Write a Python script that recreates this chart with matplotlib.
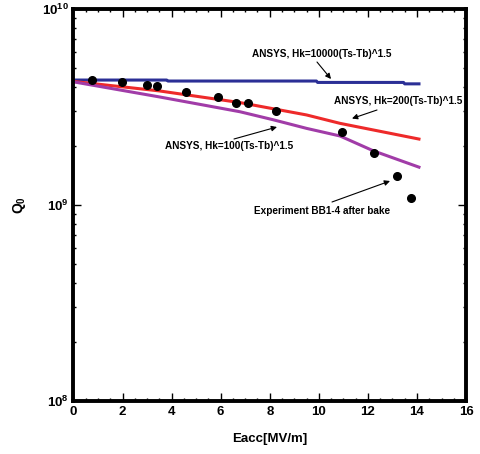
import matplotlib
matplotlib.use("Agg")
import matplotlib.pyplot as plt
from matplotlib.ticker import MultipleLocator, LogLocator, FixedLocator, NullFormatter

plt.rcParams['font.family'] = ['Liberation Sans', 'DejaVu Sans']
plt.rcParams['font.weight'] = 'bold'
plt.rcParams['mathtext.fontset'] = 'custom'
plt.rcParams['mathtext.rm'] = 'Liberation Sans:bold'
plt.rcParams['mathtext.bf'] = 'Liberation Sans:bold'
plt.rcParams['mathtext.it'] = 'Liberation Sans:bold'

# measured points, Experiment BB1-4 after bake
exp_e = [0.75, 1.98, 3.0, 3.4, 4.57, 5.89, 6.64, 7.13, 8.24, 10.93, 12.25, 13.18, 13.77]
exp_q = [4.33e9, 4.23e9, 4.08e9, 4.03e9, 3.79e9, 3.57e9, 3.33e9, 3.31e9, 3.02e9,
         2.35e9, 1.84e9, 1.40e9, 1.09e9]

# ANSYS curves
hk10000_e = [0, 3.8, 3.85, 9.9, 9.95, 13.45, 13.5, 14.08]
hk10000_q = [4.34e9, 4.34e9, 4.29e9, 4.29e9, 4.22e9, 4.22e9, 4.15e9, 4.15e9]

hk200_e = [0, 3.5, 6.79, 9.5, 10.86, 14.08]
hk200_q = [4.27e9, 3.82e9, 3.33e9, 2.88e9, 2.61e9, 2.17e9]

hk100_e = [0, 3.5, 6.79, 8.15, 9.5, 10.86, 12.22, 14.08]
hk100_q = [4.25e9, 3.56e9, 2.99e9, 2.72e9, 2.46e9, 2.25e9, 1.89e9, 1.56e9]

fig = plt.figure(figsize=(4.8, 4.54), dpi=100)
ax = fig.add_axes([0.153, 0.1167, 0.818, 0.8635])

ax.plot(hk10000_e, hk10000_q, color='#2b2f96', lw=2.2)
ax.plot(hk200_e, hk200_q, color='#ee2a2a', lw=2.2)
ax.plot(hk100_e, hk100_q, color='#a13ca8', lw=2.2)
ax.plot(exp_e, exp_q, 'o', color='black', ms=5.5)

ax.set_yscale('log')
ax.set_xlim(0, 16)
ax.set_ylim(1e8, 1e10)

ax.xaxis.set_major_locator(MultipleLocator(2))
ax.xaxis.set_minor_locator(MultipleLocator(0.5))
ax.yaxis.set_major_locator(FixedLocator([1e8, 1e9, 1e10]))
ax.yaxis.set_minor_locator(LogLocator(base=10, subs=range(2, 10)))
ax.yaxis.set_minor_formatter(NullFormatter())
ax.set_yticklabels([r'$10^{8}$', r'$10^{9}$', r'$10^{10}$'])

ax.tick_params(which='both', direction='in', top=True, right=True, labelsize=9.5)
ax.tick_params(which='major', length=5.5, width=1)
ax.tick_params(which='minor', length=2.5, width=1)
for s in ax.spines.values():
    s.set_linewidth(2.8)

ax.set_xlabel('Eacc[MV/m]', fontsize=9.5, fontweight='bold', labelpad=11)
ax.set_ylabel(r'$Q_0$', fontsize=10, labelpad=10)


def px(x, y):
    # pixel position in the reference -> figure fraction
    return (x / 480.0, 1 - y / 454.0)


fs = 7.2
labels = ['ANSYS, Hk=10000(Ts-Tb)^1.5', 'ANSYS, Hk=200(Ts-Tb)^1.5',
          'ANSYS, Hk=100(Ts-Tb)^1.5', 'Experiment BB1-4 after bake']
label_pos = [(322, 54), (398, 101), (229, 146), (322, 211)]
arrow_from = [(317, 62), (377, 110), (234, 139), (332, 202)]
arrow_to = [(331, 79), (352, 118.5), (277, 127), (390, 181)]

for lab, lp, a0, a1 in zip(labels, label_pos, arrow_from, arrow_to):
    fig.text(*px(*lp), lab, fontsize=fs, fontweight='bold', ha='center', va='center')
    ax.annotate('', xy=px(*a1), xycoords='figure fraction',
                xytext=px(*a0), textcoords='figure fraction',
                arrowprops=dict(arrowstyle='-|>', color='black', lw=0.8,
                                shrinkA=0, shrinkB=0, mutation_scale=8))

fig.savefig('out.png', dpi=100)
